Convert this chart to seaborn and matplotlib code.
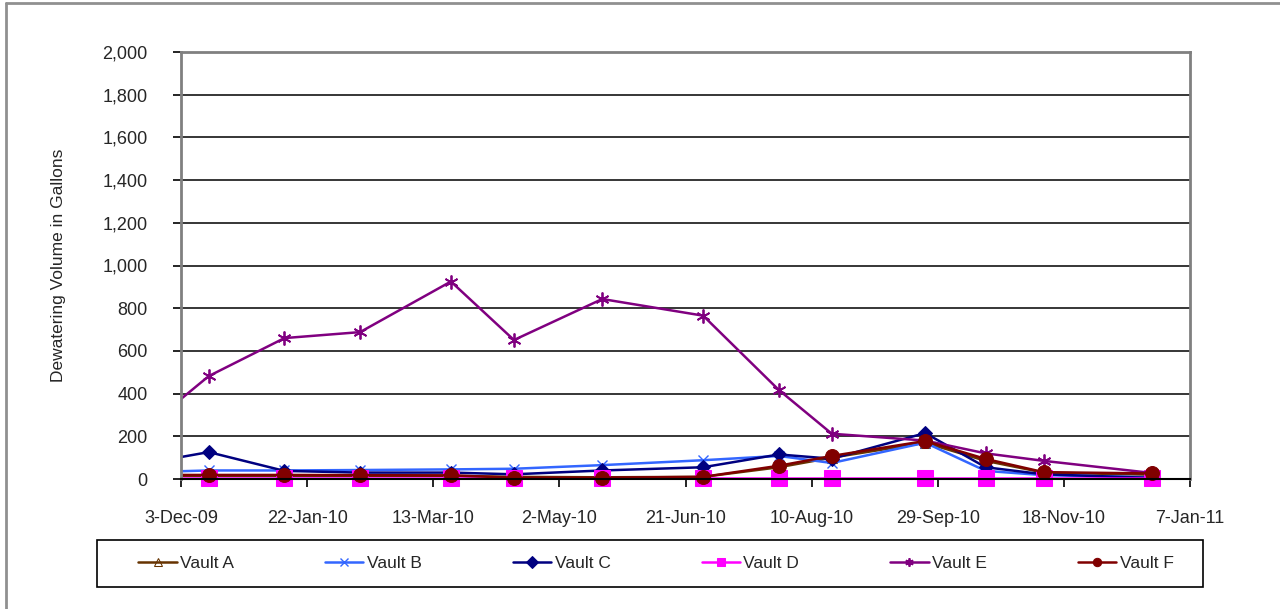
import pandas as pd
import matplotlib.pyplot as plt
import matplotlib.dates as mdates
import matplotlib.ticker as mticker
from matplotlib.patches import Rectangle
import seaborn as sns

# --- Data ---
# first date lies before the axis start; the line is clipped at the left edge
dates = pd.to_datetime([
    '2009-11-13', '2009-12-14', '2010-01-13', '2010-02-12', '2010-03-20',
    '2010-04-14', '2010-05-19', '2010-06-28', '2010-07-28', '2010-08-18',
    '2010-09-24', '2010-10-18', '2010-11-10', '2010-12-23'])

vault_a = [15, 15, 15, 15, 15, 10, 8, 10, 55, 100, 170, 85, 30, 20]
vault_b = [30, 40, 40, 42, 45, 48, 65, 88, 108, 75, 170, 38, 18, 8]
vault_c = [61, 126, 38, 30, 30, 22, 40, 55, 115, 95, 215, 55, 22, 5]
vault_d = [3, 3, 3, 3, 3, 3, 3, 3, 3, 3, 3, 3, 3, 3]
vault_e = [180, 482, 660, 688, 925, 651, 843, 765, 417, 212, 180, 120, 85, 28]
vault_f = [19, 19, 19, 18, 17, 6, 6, 10, 62, 108, 178, 94, 32, 26]

series_names = ['Vault A', 'Vault B', 'Vault C', 'Vault D', 'Vault E', 'Vault F']
series_values = [vault_a, vault_b, vault_c, vault_d, vault_e, vault_f]

x_ticks = pd.date_range('2009-12-03', '2011-01-07', freq='50D')
y_ticks = list(range(0, 2001, 200))

# --- Styles ---
colors = ['#663300', '#3366FF', '#000080', '#FF00FF', '#800080', '#800000']
markers = ['^', 'x', 'D', 's', '*', 'o']
msizes = [7, 7, 7, 11, 10, 10]

sns.set_theme(style='white')
plt.rcParams['font.family'] = ['Liberation Sans Narrow', 'Liberation Sans', 'DejaVu Sans']

fig = plt.figure(figsize=(12.8, 6.09), dpi=100)
ax = fig.add_axes([181 / 1280, 1 - 479 / 609, 1009 / 1280, 427 / 609])

for name, vals, col, mk, ms in zip(series_names, series_values, colors, markers, msizes):
    df = pd.DataFrame({'date': dates, 'value': vals})
    kw = dict(marker=mk, markersize=ms, markeredgecolor=col)
    if mk == '^':
        kw['markerfacecolor'] = 'none'
    if mk == '*':
        kw['marker'] = (6, 2, 0)
        kw['markeredgewidth'] = 1.3
    if mk == 'x':
        kw['markeredgewidth'] = 1.0
    sns.lineplot(data=df, x='date', y='value', ax=ax, color=col, linewidth=1.8,
                 label=name, legend=False, **kw)

# clip lines to the plot width, but let markers spill below the axis
clip_rect = Rectangle((0, -0.06), 1, 1.1, transform=ax.transAxes)
for ln in ax.lines:
    ln.set_clip_path(clip_rect)

ax.set_xlim(x_ticks[0], x_ticks[-1])
ax.set_ylim(0, 2000)
ax.set_xticks(x_ticks)
ax.xaxis.set_major_formatter(mdates.DateFormatter('%-d-%b-%y'))
ax.set_yticks(y_ticks)
ax.yaxis.set_major_formatter(mticker.StrMethodFormatter('{x:,.0f}'))
ax.grid(True, axis='y', color='black', linewidth=1.1)
ax.set_axisbelow(True)

ax.tick_params(axis='both', which='major', direction='out', length=6, width=1.2,
               color='black', labelsize=13, bottom=True, left=True)
ax.tick_params(axis='x', pad=16)
ax.tick_params(axis='y', pad=18)

ax.set_xlabel('')
ax.set_ylabel('Dewatering Volume in Gallons', fontsize=12.5, labelpad=14)
ax.yaxis.set_label_coords(-115 / 1009, 0.5)

for side in ['top', 'right', 'left']:
    ax.spines[side].set_color('#808080')
    ax.spines[side].set_linewidth(2)
ax.spines['bottom'].set_color('black')
ax.spines['bottom'].set_linewidth(1.5)

# legend with its own box
handles, labels = ax.get_legend_handles_labels()
leg = fig.legend(handles, labels, loc='center', ncol=6, frameon=False,
                 bbox_to_anchor=(656 / 1280, 1 - 563 / 609), fontsize=12.5,
                 handlelength=2.2, handletextpad=0.2, columnspacing=5.25)
for h in leg.legend_handles:
    h.set_markersize(6)
fig.add_artist(Rectangle((97 / 1280, 1 - 587 / 609), 1106 / 1280, 47 / 609,
                         transform=fig.transFigure, fill=False,
                         edgecolor='black', linewidth=1.2))

# outer chart frame (left and top edges visible)
fig.add_artist(plt.Line2D([6 / 1280, 6 / 1280], [0, 1 - 3 / 609],
                          transform=fig.transFigure, color='#909090', linewidth=2))
fig.add_artist(plt.Line2D([6 / 1280, 1], [1 - 3 / 609, 1 - 3 / 609],
                          transform=fig.transFigure, color='#909090', linewidth=2))

fig.savefig('out.png', dpi=100)
